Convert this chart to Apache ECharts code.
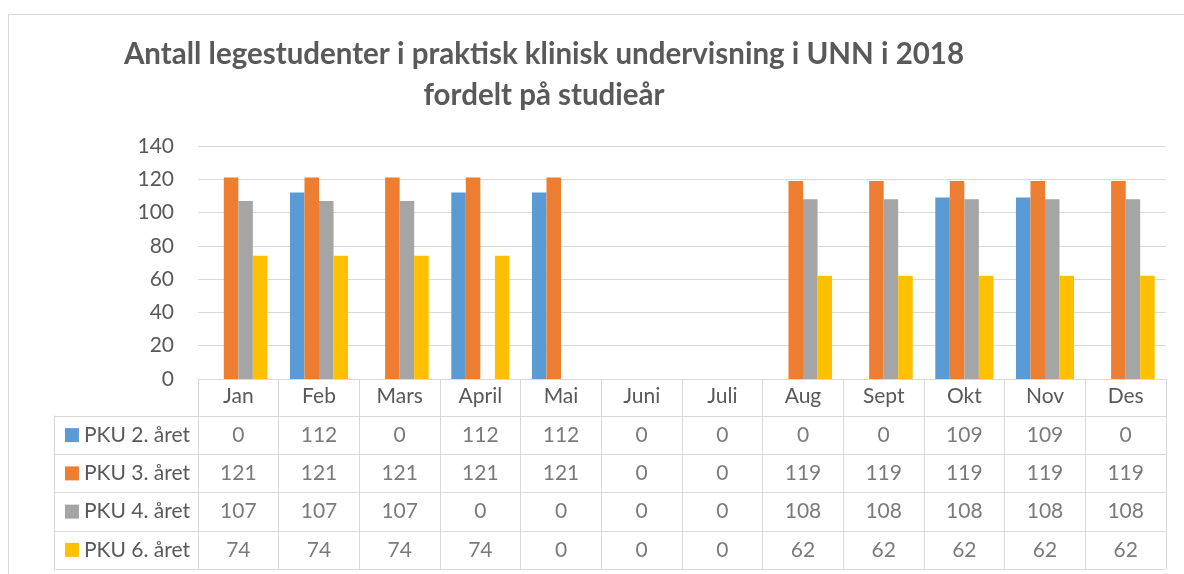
<!DOCTYPE html>
<html><head><meta charset="utf-8">
<script src="https://cdn.jsdelivr.net/npm/echarts@6/dist/echarts.min.js"></script>
<style>html,body{margin:0;padding:0;background:#fff}#c{width:1184px;height:574px}</style>
</head><body><div id="c"></div>
<script>
const titleLines = ['Antall legestudenter i praktisk klinisk undervisning i UNN i 2018', 'fordelt på studieår'];
const months = ['Jan','Feb','Mars','April','Mai','Juni','Juli','Aug','Sept','Okt','Nov','Des'];
const seriesNames = ['PKU 2. året','PKU 3. året','PKU 4. året','PKU 6. året'];
const pku2 = [0,112,0,112,112,0,0,0,0,109,109,0];
const pku3 = [121,121,121,121,121,0,0,119,119,119,119,119];
const pku4 = [107,107,107,0,0,0,0,108,108,108,108,108];
const pku6 = [74,74,74,74,0,0,0,62,62,62,62,62];
const yMin = 0, yMax = 140, yStep = 20;

const rows = [pku2, pku3, pku4, pku6];
const colors = ['#5B9BD5','#ED7D31','#A5A5A5','#FFC000'];
const FONT = 'Lato';
const TXT = '#595959';
const LINE = '#d9d9d9';
const FS = 21;

const cellData = [];
rows.forEach((row, r) => row.forEach((v, i) => cellData.push([i, r, v])));

const rich = { t: { fontFamily: FONT, fontSize: FS, color: TXT, padding: [0, 0, 0, 5] } };
colors.forEach((c, i) => { rich['b' + i] = { width: 14, height: 14, backgroundColor: c }; });

const chart = echarts.init(document.getElementById('c'), null, { renderer: 'canvas' });
chart.setOption({
  animation: false,
  backgroundColor: '#fff',
  textStyle: { fontFamily: FONT },
  title: {
    text: titleLines.join('\n'),
    left: 544, top: 34, padding: 0, textAlign: 'center',
    textStyle: { fontFamily: FONT, fontWeight: 'bold', fontSize: 29.5, lineHeight: 41, color: TXT }
  },
  graphic: [{ type: 'rect', silent: true, shape: { x: 8.5, y: 14.5, width: 1300, height: 700 }, style: { fill: 'none', stroke: LINE, lineWidth: 1 } }],
  grid: [
    { left: 198, right: 18, top: 146, bottom: 195 },
    { left: 198, right: 18, top: 416, height: 153 },
    { left: 54, width: 144, top: 416, height: 153 }
  ],
  xAxis: [
    { type: 'category', gridIndex: 0, data: months, boundaryGap: true,
      axisLine: { show: true, lineStyle: { color: LINE } },
      axisTick: { show: true, interval: 0, length: 37, lineStyle: { color: LINE } },
      axisLabel: { interval: 0, margin: 7, fontFamily: FONT, fontSize: FS, color: TXT } },
    { type: 'category', gridIndex: 1, data: months, boundaryGap: true,
      axisLine: { show: false }, axisTick: { show: false }, axisLabel: { show: false },
      splitLine: { show: true, interval: 0, lineStyle: { color: LINE } } },
    { type: 'value', gridIndex: 2, show: false }
  ],
  yAxis: [
    { type: 'value', gridIndex: 0, min: yMin, max: yMax, interval: yStep,
      axisLine: { show: false }, axisTick: { show: false },
      axisLabel: { margin: 24, fontFamily: FONT, fontSize: FS, color: TXT },
      splitLine: { lineStyle: { color: LINE } } },
    { type: 'category', gridIndex: 1, data: seriesNames, inverse: true,
      axisLine: { show: false }, axisTick: { show: false },
      axisLabel: { interval: 0, margin: 8, formatter: (v, i) => `{b${i}|}{t|${v}}`, rich: rich },
      splitLine: { show: true, interval: 0, lineStyle: { color: LINE } } },
    { type: 'category', gridIndex: 2, data: seriesNames, inverse: true,
      axisLine: { show: true, lineStyle: { color: LINE } }, axisTick: { show: false }, axisLabel: { show: false },
      splitLine: { show: true, interval: 0, lineStyle: { color: LINE } } }
  ],
  series: [
    ...rows.map((row, i) => ({
      type: 'bar', name: seriesNames[i], xAxisIndex: 0, yAxisIndex: 0, data: row,
      barGap: '0%', barCategoryGap: '28%', itemStyle: { color: colors[i] }
    })),
    { type: 'scatter', xAxisIndex: 1, yAxisIndex: 1, data: cellData, symbolSize: 1,
      itemStyle: { color: 'rgba(0,0,0,0)' },
      label: { show: true, position: 'inside', formatter: p => String(p.value[2]), fontFamily: FONT, fontSize: FS, color: TXT } }
  ]
});
</script></body></html>
